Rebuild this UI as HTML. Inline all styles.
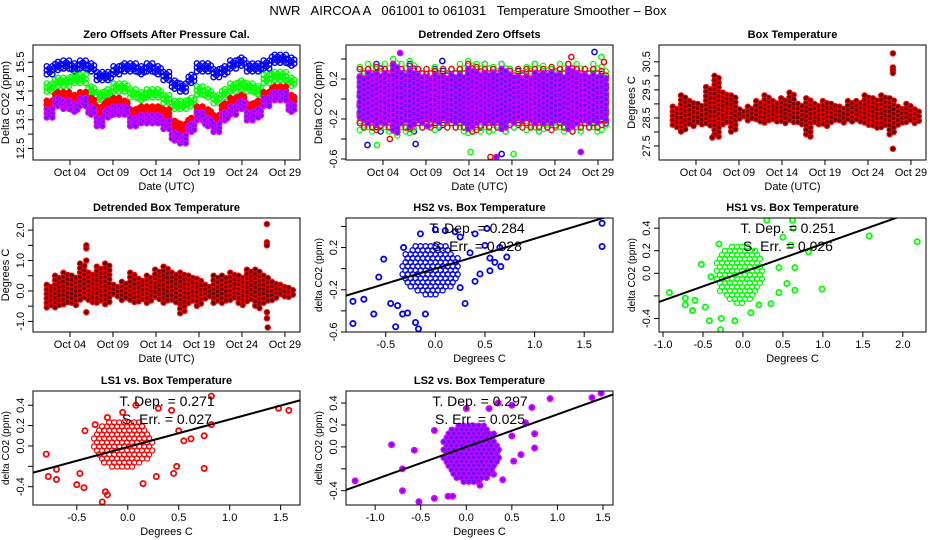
<!DOCTYPE html>
<html><head><meta charset="utf-8"><style>
body{margin:0;background:#fff}
svg{display:block;font-family:"Liberation Sans",Arial,sans-serif}
</style></head><body>
<svg id="c" width="936" height="540" viewBox="0 0 936 540" xmlns="http://www.w3.org/2000/svg">
<rect width="936" height="540" fill="#fff"/>
<text x="468" y="15" text-anchor="middle" font-size="13" style="white-space:pre">NWR   AIRCOA A   061001 to 061031   Temperature Smoother – Box</text>
</svg>
<script>
// ---- Panel 1: zero offsets (daily centers, Oct 1..30)
const zoBlue=[15.2,15.35,15.4,15.3,15.4,15.3,15.0,15.0,15.2,15.3,15.3,15.2,15.3,15.2,15.0,14.7,14.6,14.9,15.3,15.3,15.1,15.2,15.4,15.5,15.3,15.3,15.4,15.6,15.6,15.5];
const zoGreen=[14.6,14.8,14.8,14.9,14.9,14.5,14.3,14.4,14.6,14.6,14.4,14.3,14.4,14.4,14.2,14.0,14.0,14.1,14.5,14.4,14.2,14.4,14.6,14.7,14.6,14.5,14.9,15.0,15.0,14.8];
const zoRed=[14.0,14.3,14.3,14.2,14.3,14.1,13.8,14.0,14.1,14.0,13.7,13.8,13.8,13.8,13.7,13.3,13.2,13.4,13.8,13.7,13.5,13.9,14.1,14.2,13.9,14.0,14.3,14.5,14.5,14.2];
const zoPurple=[13.7,14.1,14.0,13.9,14.1,13.8,13.4,13.7,13.8,13.8,13.4,13.5,13.5,13.5,13.3,12.9,12.8,13.2,13.6,13.4,13.2,13.6,13.8,14.0,13.6,13.7,14.1,14.3,14.3,13.9];
const zoSpread=0.16;
// ---- Panel 2: detrended zero offsets, daily half-ranges
const dtBlue=[0.3,0.3,0.35,0.3,0.35,0.3,0.35,0.3,0.25,0.3,0.28,0.3,0.3,0.35,0.3,0.35,0.3,0.35,0.3,0.28,0.3,0.35,0.3,0.3,0.3,0.35,0.3,0.3,0.3,0.25];
const dtGreen=[0.32,0.35,0.3,0.35,0.4,0.35,0.38,0.3,0.3,0.32,0.3,0.3,0.35,0.38,0.35,0.35,0.32,0.35,0.3,0.3,0.32,0.35,0.33,0.3,0.35,0.35,0.35,0.3,0.35,0.32];
const dtRed=[0.3,0.3,0.32,0.3,0.35,0.3,0.33,0.3,0.3,0.28,0.3,0.3,0.3,0.35,0.32,0.3,0.3,0.3,0.28,0.3,0.3,0.3,0.3,0.32,0.3,0.35,0.3,0.3,0.3,0.28];
const dtPurple=[0.22,0.26,0.25,0.26,0.34,0.26,0.28,0.24,0.22,0.24,0.22,0.24,0.24,0.3,0.26,0.26,0.26,0.3,0.24,0.22,0.22,0.26,0.26,0.26,0.24,0.3,0.26,0.24,0.24,0.22];
const dtOutDay=[1.2,2.3,3.8,5.0,6.8,13.2,15.5,16.2,16.8,20.1,24.9,26.0,27.6,28.4,28.7,8.2,9.9,18.2];
const dtOutVal=[-0.46,-0.46,-0.4,0.46,-0.45,-0.53,-0.58,-0.58,-0.55,0.3,0.42,-0.53,0.47,0.42,0.37,-0.27,0.38,-0.55];
// ---- Panel 3: box temperature daily max/min
const btMax=[28.9,29.3,29.1,29.0,29.6,30.0,29.4,29.3,28.8,28.9,29.1,29.3,29.1,29.2,29.4,29.0,29.2,29.0,29.1,29.0,28.9,29.1,29.1,29.3,29.2,29.3,29.2,28.9,29.0,28.8];
const btMin=[28.1,28.0,28.2,28.2,28.2,27.8,28.2,28.0,28.4,28.4,28.3,28.3,28.3,28.3,28.3,28.2,27.8,28.2,28.2,28.3,28.3,28.3,28.3,28.2,28.1,28.1,27.9,28.2,28.3,28.3];
const btOutDay=[25.9,25.9,25.9,25.9,25.9,4.9];
const btOutVal=[30.8,30.3,30.2,30.1,27.4,27.8];
// ---- Panel 4: detrended box temperature
const dbMax=[0.2,0.5,0.6,0.5,0.9,0.6,0.8,0.9,0.2,0.3,0.6,0.4,0.5,0.7,0.8,0.6,0.6,0.5,0.4,0.2,0.5,0.5,0.6,0.5,0.7,0.7,0.5,0.3,0.2,0.1];
const dbMin=[-0.6,-0.6,-0.5,-0.5,-0.3,-0.4,-0.4,-0.5,-0.2,-0.3,-0.4,-0.4,-0.4,-0.3,-0.4,-0.4,-0.8,-0.4,-0.5,-0.3,-0.4,-0.4,-0.3,-0.5,-0.4,-0.6,-0.4,-0.3,-0.2,-0.2];
const dbOutDay=[4.9,4.9,4.9,4.9,25.9,25.9,25.9,25.9,25.9,26.0];
const dbOutVal=[1.5,1.4,1.0,-0.7,2.2,1.6,1.5,-0.7,-0.9,-1.2];
// ---- Scatter panels: outlying points
const hs2X=[-0.83,-0.83,-0.72,-0.62,-0.52,-0.57,-0.45,-0.40,-0.38,-0.33,-0.28,-0.2,-0.17,-0.1,-0.32,-0.15,0.0,0.1,0.2,0.25,0.4,0.52,0.5,0.55,0.6,0.72,0.66,0.55,0.45,0.4,0.3,0.25,1.68,1.68,0.65,0.35];
const hs2Y=[-0.31,-0.52,-0.29,-0.43,0.09,-0.08,-0.33,-0.55,-0.35,-0.43,-0.42,-0.51,-0.57,-0.43,0.2,0.33,0.37,0.36,0.35,0.3,0.33,0.38,0.22,0.1,0.06,0.11,0.02,-0.02,-0.05,-0.12,-0.33,-0.18,0.43,0.21,0.2,0.15];
const hs1X=[-0.92,-0.72,-0.72,-0.63,-0.6,-0.52,-0.47,-0.42,-0.4,-0.28,-0.27,-0.1,-0.3,0.3,0.62,0.63,0.5,0.65,0.65,0.55,0.45,0.35,0.99,1.58,2.18,0.82,0.6,0.45,0.2,0.1];
const hs1Y=[-0.17,-0.22,-0.28,-0.33,-0.24,0.08,-0.3,-0.42,-0.03,-0.5,-0.4,-0.42,0.26,0.47,0.47,0.4,0.32,0.05,-0.15,-0.09,-0.17,-0.27,-0.14,0.33,0.28,0.19,0.25,0.05,-0.28,-0.35];
const ls1X=[-0.8,-0.78,-0.7,-0.7,-0.5,-0.47,-0.43,-0.42,-0.32,-0.25,-0.22,-0.2,-0.2,-0.05,0.08,0.3,0.43,0.82,0.82,0.75,0.75,0.62,0.55,0.48,0.45,0.28,0.15,1.48,1.58,0.5];
const ls1Y=[-0.08,-0.3,-0.23,-0.33,-0.38,-0.27,-0.41,0.15,0.21,-0.55,-0.45,-0.48,0.28,0.33,0.4,0.37,0.35,0.49,0.21,0.1,-0.22,0.07,0.05,-0.2,-0.27,-0.3,-0.37,0.37,0.35,0.15];
const ls2X=[-1.22,-0.82,-0.7,-0.7,-0.57,-0.52,-0.35,-0.35,-0.2,-0.15,0.0,0.15,0.25,0.35,0.5,0.5,0.52,0.6,0.65,0.72,0.75,0.75,0.92,1.38,1.48,0.3,0.4];
const ls2Y=[-0.31,0.02,-0.2,-0.4,-0.03,-0.5,-0.47,0.15,-0.45,-0.45,0.35,-0.35,0.35,0.4,0.38,0.1,-0.13,-0.07,0.22,0.36,0.12,-0.01,0.44,0.45,0.49,-0.25,-0.3];
// ---- Scatter panels: dense core (centre x, centre y, half-width x, half-height y)
const hs2Core=[-0.05,0.0,0.3,0.25];
const hs1Core=[-0.05,0.0,0.3,0.27];
const ls1Core=[-0.05,0.02,0.3,0.25];
const ls2Core=[0.05,-0.05,0.32,0.28];
const fitSlope=[0.284,0.251,0.271,0.297];
const fitIntercept=[0.0,0.01,-0.01,0.0];
const fitErr=[0.028,0.026,0.027,0.025];
const dateTickDays=[3,8,13,18,23,28];
const dateTickLabels=["Oct 04","Oct 09","Oct 14","Oct 19","Oct 24","Oct 29"];

const NS="http://www.w3.org/2000/svg";
const svg=document.getElementById('c');
function el(tag,attrs,parent,text){const e=document.createElementNS(NS,tag);for(const k in attrs)e.setAttribute(k,attrs[k]);if(text!==undefined)e.textContent=text;(parent||svg).appendChild(e);return e;}
const lin=(d0,d1,r0,r1)=>v=>r0+(v-d0)*(r1-r0)/(d1-d0);
const COLW=267;
const BLUE="#0000ff",GREEN="#00ff00",RED="#ff0000",PUR="#e000ff",PURF="#6a10ff";

function panel(name,x0,y0,h,xd,yd,title,xlab,ylab){
  const g=el('g',{});
  
  
  const sx=lin(xd[0],xd[1],x0,x0+COLW), sy=lin(yd[0],yd[1],y0+h,y0);
  const t=el('text',{x:x0+COLW/2,y:y0-7,'text-anchor':'middle','font-size':11,'font-weight':'bold'},g,title);
  
  
  const xl=el('text',{x:x0+COLW/2,y:y0+h+30,'text-anchor':'middle','font-size':11},g,xlab);
  
  
  const yl=el('text',{transform:`translate(${x0-24},${y0+h/2}) rotate(-90)`,'text-anchor':'middle','font-size':ylab.startsWith('delta')?10:11},g,ylab);
  
  
  const clip='clip-'+name;
  const cp=el('clipPath',{id:clip},g);el('rect',{x:x0,y:y0,width:COLW,height:h},cp);
  const plot=el('g',{'clip-path':`url(#${clip})`},g);
  
  
  return {g,plot,sx,sy,x0,y0,h};
}
function finish(p,xt,xtl,yt,ytl){
  const {g,sx,sy,x0,y0,h}=p;
  el('rect',{x:x0,y:y0,width:COLW,height:h,fill:'none',stroke:'#000','stroke-width':1},g);
  xt.forEach((v,i)=>{const x=sx(v);el('line',{x1:x,x2:x,y1:y0+h,y2:y0+h+5,stroke:'#000'},g);
    const l=el('text',{x:x,y:y0+h+16,'text-anchor':'middle','font-size':11},g,xtl[i]);
    
    });
  yt.forEach((v,i)=>{const y=sy(v);el('line',{x1:x0-5,x2:x0,y1:y,y2:y,stroke:'#000'},g);
    if(ytl[i]){const l=el('text',{transform:`translate(${x0-9},${y}) rotate(-90)`,'text-anchor':'middle','font-size':11},g,ytl[i]);
    
    }});
}
function dot(p,x,y,stroke,fill,sw){const c=el('circle',{cx:x,cy:y,r:2.6,fill:fill||'none',stroke:stroke,'stroke-width':sw||1.5},p.plot);
  
  }
function stacks(p,lo,hi,stroke,fill,step,sw,ncol){
  for(let i=0;i<lo.length;i++)for(let k=0;k<ncol;k++){
    const x=p.sx(0.3+i*0.97+k*0.97/ncol);const a=p.sy(hi[i]),b=p.sy(lo[i]);
    const off=((i*ncol+k)%2)*step/2;
    for(let y=a+off;y<=b;y+=step)dot(p,x,y,stroke,fill,sw);}
}
const dateDom=[-1.3,29.75];

// Panel 1
let p=panel('zero-offsets-panel',33,45,115,dateDom,[12.1,16.1],'Zero Offsets After Pressure Cal.','Date (UTC)','Delta CO2 (ppm)');
[[zoBlue,BLUE,'none'],[zoGreen,GREEN,'none'],[zoRed,RED,RED],[zoPurple,PUR,PURF]].forEach(([s,c,f])=>{
  stacks(p,s.map(v=>v-zoSpread),s.map(v=>v+zoSpread),c,f,4,1.4,3);});
finish(p,dateTickDays,dateTickLabels,[12.5,13,13.5,14,14.5,15,15.5],['12.5','','13.5','','14.5','','15.5']);

// Panel 2
p=panel('detrended-zero-offsets-panel',346,45,115,dateDom,[-0.61,0.54],'Detrended Zero Offsets','Date (UTC)','Delta CO2 (ppm)');
[[dtBlue,BLUE,'none'],[dtGreen,GREEN,'none'],[dtRed,RED,'none'],[dtPurple,PUR,PURF]].forEach(([s,c,f],j)=>{
  stacks(p,s.map(v=>-v),s,c,f,j===3?5:9,1.3,2);
  dtOutDay.forEach((d,i)=>{if(i%4===j)dot(p,p.sx(d),p.sy(dtOutVal[i]),c,f);});});
finish(p,dateTickDays,dateTickLabels,[-0.6,-0.4,-0.2,0,0.2,0.4],['-0.6','','-0.2','','0.2','']);

// Panel 3
p=panel('box-temperature-panel',659,45,115,dateDom,[27.0,31.1],'Box Temperature','Date (UTC)','Degrees C');
stacks(p,btMin,btMax,RED,'#600',4.5,1.2,2);
btOutDay.forEach((d,i)=>dot(p,p.sx(d),p.sy(btOutVal[i]),RED,'#600',1.2));
finish(p,dateTickDays,dateTickLabels,[27.5,28,28.5,29,29.5,30,30.5],['27.5','','28.5','','29.5','','30.5']);

// Panel 4
p=panel('detrended-box-temperature-panel',33,218,114,dateDom,[-1.35,2.4],'Detrended Box Temperature','Date (UTC)','Degrees C');
stacks(p,dbMin,dbMax,RED,'#600',4.5,1.2,2);
dbOutDay.forEach((d,i)=>dot(p,p.sx(d),p.sy(dbOutVal[i]),RED,'#600',1.2));
finish(p,dateTickDays,dateTickLabels,[-1,-0.5,0,0.5,1,1.5,2],['-1.0','','0.0','','1.0','','2.0']);

// Scatter panels
function scatter(name,x0,y0,h,xd,yd,title,X,Y,core,c,f,fi,xt,xtl,yt,ytl,tx){
  const p=panel(name,x0,y0,h,xd,yd,title,'Degrees C','delta CO2 (ppm)');
  const cx=p.sx(core[0]),cy=p.sy(core[1]),rx=p.sx(core[0]+core[2])-cx,ry=cy-p.sy(core[1]+core[3]);
  for(let yy=-ry;yy<=ry;yy+=4)for(let xx=-rx+((Math.round(yy/4))%2?2:0);xx<=rx;xx+=5){
    if((xx*xx)/(rx*rx)+(yy*yy)/(ry*ry)<=1)dot(p,cx+xx,cy+yy,c,f,1.3);}
  X.forEach((x,i)=>dot(p,p.sx(x),p.sy(Y[i]),c,f,1.8));
  const ln=el('line',{x1:p.sx(xd[0]),y1:p.sy(fitIntercept[fi]+fitSlope[fi]*xd[0]),x2:p.sx(xd[1]),y2:p.sy(fitIntercept[fi]+fitSlope[fi]*xd[1]),stroke:'#000','stroke-width':2},p.plot);
  
  
  const t1=el('text',{x:tx,y:y0+15,'text-anchor':'middle','font-size':14},p.g,'T. Dep. =  '+fitSlope[fi].toFixed(3));
  
  
  const t2=el('text',{x:tx,y:y0+33,'text-anchor':'middle','font-size':14},p.g,'S. Err. =  '+fitErr[fi].toFixed(3));
  
  
  finish(p,xt,xtl,yt,ytl);
}
scatter('hs2-scatter-panel',346,218,114,[-0.9,1.79],[-0.6,0.48],'HS2 vs. Box Temperature',hs2X,hs2Y,hs2Core,BLUE,'none',0,
  [-0.5,0,0.5,1,1.5],['-0.5','0.0','0.5','1.0','1.5'],[-0.6,-0.4,-0.2,0,0.2,0.4],['-0.6','','-0.2','','0.2',''],477);
scatter('hs1-scatter-panel',659,218,114,[-1.05,2.29],[-0.52,0.49],'HS1 vs. Box Temperature',hs1X,hs1Y,hs1Core,GREEN,'none',1,
  [-1,-0.5,0,0.5,1,1.5,2],['-1.0','-0.5','0.0','0.5','1.0','1.5','2.0'],[-0.4,-0.2,0,0.2,0.4],['-0.4','','0.0','0.2','0.4'],788);
scatter('ls1-scatter-panel',33,391,114,[-0.93,1.69],[-0.58,0.54],'LS1 vs. Box Temperature',ls1X,ls1Y,ls1Core,RED,'none',2,
  [-0.5,0,0.5,1,1.5],['-0.5','0.0','0.5','1.0','1.5'],[-0.4,-0.2,0,0.2,0.4],['-0.4','','0.0','0.2','0.4'],167);
scatter('ls2-scatter-panel',346,391,114,[-1.32,1.61],[-0.53,0.51],'LS2 vs. Box Temperature',ls2X,ls2Y,ls2Core,PUR,PURF,3,
  [-1,-0.5,0,0.5,1,1.5],['-1.0','-0.5','0.0','0.5','1.0','1.5'],[-0.4,-0.2,0,0.2,0.4],['-0.4','','0.0','0.2','0.4'],480);
</script>
</body></html>
